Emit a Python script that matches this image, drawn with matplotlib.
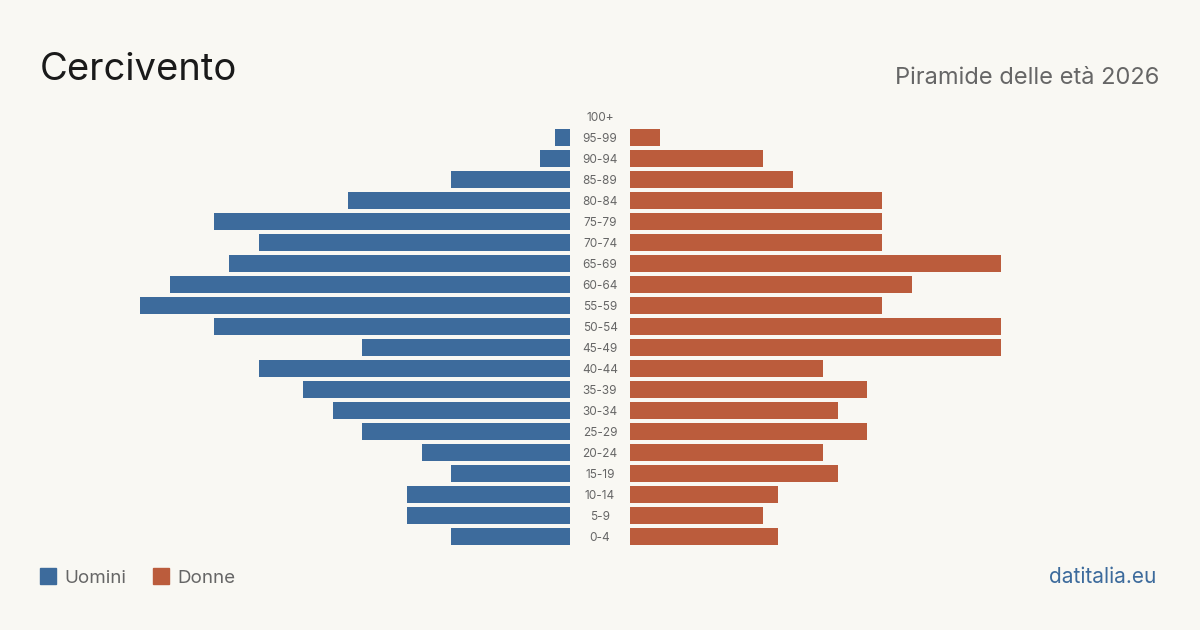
import numpy as np
import matplotlib.pyplot as plt
from matplotlib.patches import Rectangle

plt.rcParams['font.family'] = ['Inter', 'DejaVu Sans']

# age classes, top to bottom
ages = ["100+", "95-99", "90-94", "85-89", "80-84", "75-79", "70-74", "65-69",
        "60-64", "55-59", "50-54", "45-49", "40-44", "35-39", "30-34", "25-29",
        "20-24", "15-19", "10-14", "5-9", "0-4"]
uomini = [0, 1, 2, 8, 15, 24, 21, 23, 27, 29, 24, 14, 21, 18, 16, 14, 10, 8, 11, 11, 8]
donne = [0, 2, 9, 11, 17, 17, 17, 25, 19, 17, 25, 25, 13, 16, 14, 16, 13, 14, 10, 9, 10]

bg = "#f9f8f3"
blue = "#3d6b9c"
orange = "#bb5c3c"
grey = "#666666"

W, H = 1200, 630
fig = plt.figure(figsize=(12, 6.3), dpi=100, facecolor=bg)

max_v = max(max(uomini), max(donne))
half = 430  # px for max value

n = len(ages)
top_c, pitch = 116, 21
y_top = top_c - pitch / 2
y_bot = top_c + pitch * (n - 1) + pitch / 2

def box(x0, x1):
    return [x0 / W, 1 - y_bot / H, (x1 - x0) / W, (y_bot - y_top) / H]

y = np.arange(n)

axl = fig.add_axes(box(570 - half, 570))
axl.barh(y, uomini, height=17 / 21, color=blue)
axl.set_xlim(max_v, 0)

axr = fig.add_axes(box(630, 630 + half))
axr.barh(y, donne, height=17 / 21, color=orange)
axr.set_xlim(0, max_v)

for ax in (axl, axr):
    ax.set_ylim(n - 0.5, -0.5)
    ax.axis("off")
    ax.patch.set_alpha(0)

for i, a in enumerate(ages):
    fig.text(600 / W, 1 - (top_c + i * pitch + 5) / H, a, ha="center", va="baseline",
             fontsize=8.5, color=grey)

fig.text(40 / W, 1 - 80 / H, "Cercivento", fontsize=27.5, color="#1a1a1a",
         ha="left", va="baseline")
fig.text(1159 / W, 1 - 84 / H, "Piramide delle età 2026", fontsize=17,
         color=grey, ha="right", va="baseline")

# legend
fig.patches.append(Rectangle((40 / W, 1 - 584 / H), 16 / W, 16 / H,
                             transform=fig.transFigure, color=blue))
fig.text(64 / W, 1 - 583 / H, "Uomini", fontsize=13.5, color=grey,
         ha="left", va="baseline")
fig.patches.append(Rectangle((153 / W, 1 - 584 / H), 16 / W, 16 / H,
                             transform=fig.transFigure, color=orange))
fig.text(177 / W, 1 - 583 / H, "Donne", fontsize=13.5, color=grey,
         ha="left", va="baseline")

fig.text(1156 / W, 1 - 583 / H, "datitalia.eu", fontsize=15, color=blue,
         ha="right", va="baseline")

fig.savefig("out.png", dpi=100, facecolor=bg)
